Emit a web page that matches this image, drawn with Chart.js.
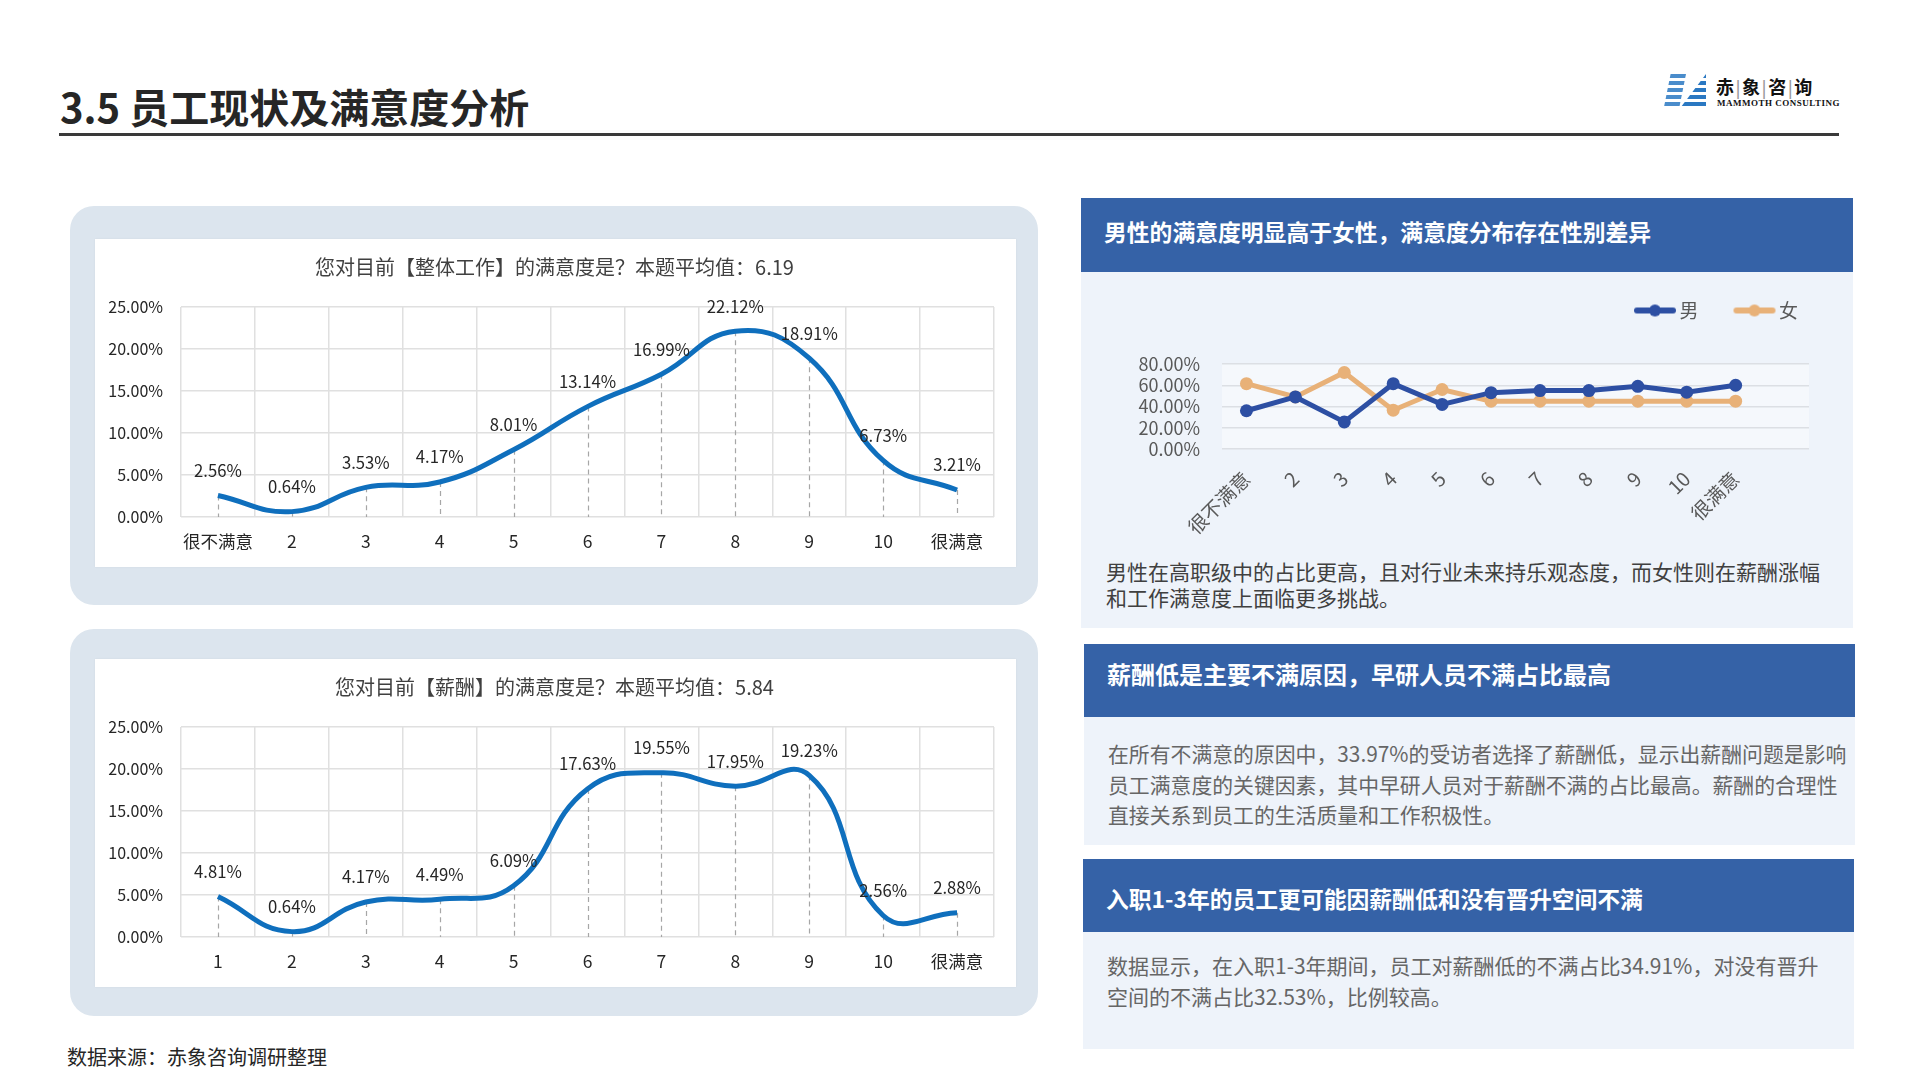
<!DOCTYPE html>
<html lang="zh-CN">
<head>
<meta charset="utf-8">
<title>3.5 员工现状及满意度分析</title>
<script src="https://cdn.jsdelivr.net/npm/chart.js@4.4.1/dist/chart.umd.min.js"></script>
<style>
  body { margin: 0; background: #fff; }
  #page { position: relative; width: 1920px; height: 1080px; overflow: hidden; background: #fff;
          font-family: "Noto Sans CJK SC", "Noto Sans", sans-serif; }
  .abs { position: absolute; }
  .title { left: 60px; top: 81px; height: 50px; line-height: 50px; font-size: 40px; font-weight: 700; color: #262626; }
  .rule { left: 59px; top: 133px; width: 1780px; height: 3px; background: #3a3a3a; }
  .logo-cn { left: 1716px; top: 73px; font-family: "DejaVu Serif", "Noto Sans CJK SC", serif; font-size: 18px; font-weight: 700; color: #111; }
  .logo-cn span { color: #999; font-weight: 400; margin: 0 1px; }
  .logo-en { left: 1717px; top: 98px; font-family: "Liberation Serif", "DejaVu Serif", serif; font-size: 9px; font-weight: 700; color: #111; letter-spacing: 0.5px; }
  .stripes { background: repeating-linear-gradient(180deg, #2a78c2 0 4px, transparent 4px 7px); }
  .outer { left: 70px; width: 968px; background: #dce5ee; border-radius: 24px; }
  .card { left: 95px; width: 921px; height: 328px; background: #fff; box-shadow: 0 0 2px rgba(0,0,0,0.06); }
  .head { background: #3562a7; color: #fff; font-weight: 700; font-size: 22.8px; box-sizing: border-box; padding-left: 23px; }
  .body { background: #eef3fa; box-sizing: border-box; padding-left: 24px; font-size: 21px; color: #666; white-space: nowrap; }
  .src { left: 67px; top: 1042px; font-size: 20px; color: #262626; }
</style>
</head>
<body>
<div id="page">
  <div class="abs title">3.5 员工现状及满意度分析</div>
  <div class="abs rule"></div>

  <div class="abs stripes" style="left:1664px;top:74px;width:22px;height:33px;clip-path:polygon(30% 0,100% 0,70% 100%,0 100%);opacity:0.85;"></div>
  <div class="abs stripes" style="left:1681px;top:74px;width:25px;height:33px;clip-path:polygon(100% 0,100% 100%,0 100%);"></div>
  <div class="abs logo-cn">赤<span>|</span>象<span>|</span>咨<span>|</span>询</div>
  <div class="abs logo-en">MAMMOTH CONSULTING</div>

  <div class="abs outer" style="top:206px;height:399px;"></div>
  <div class="abs card" style="top:239px;"><div style="position:relative;width:921px;height:328px;"><canvas id="work"></canvas></div></div>

  <div class="abs outer" style="top:629px;height:387px;"></div>
  <div class="abs card" style="top:659px;"><div style="position:relative;width:921px;height:328px;"><canvas id="pay"></canvas></div></div>

  <div class="abs head" style="left:1081px;top:198px;width:772px;height:74px;line-height:68px;">男性的满意度明显高于女性，满意度分布存在性别差异</div>
  <div class="abs body" style="left:1081px;top:272px;width:772px;height:356px;"></div>
  <div class="abs" style="left:1081px;top:270px;width:772px;height:275px;"><canvas id="gender"></canvas></div>
  <div class="abs" style="left:1106px;top:558px;font-size:21px;line-height:26px;color:#404040;white-space:nowrap;">男性在高职级中的占比更高，且对行业未来持乐观态度，而女性则在薪酬涨幅<br>和工作满意度上面临更多挑战。</div>

  <div class="abs head" style="left:1084px;top:644px;width:771px;height:73px;line-height:60px;font-size:24px;">薪酬低是主要不满原因，早研人员不满占比最高</div>
  <div class="abs body" style="left:1084px;top:717px;width:771px;height:128px;padding-top:21px;line-height:30.5px;font-size:20.85px;">在所有不满意的原因中，33.97%的受访者选择了薪酬低，显示出薪酬问题是影响<br>员工满意度的关键因素，其中早研人员对于薪酬不满的占比最高。薪酬的合理性<br>直接关系到员工的生活质量和工作积极性。</div>

  <div class="abs head" style="left:1083px;top:859px;width:771px;height:73px;line-height:80px;">入职1-3年的员工更可能因薪酬低和没有晋升空间不满</div>
  <div class="abs body" style="left:1083px;top:932px;width:771px;height:117px;padding-top:18px;line-height:31px;">数据显示，在入职1-3年期间，员工对薪酬低的不满占比34.91%，对没有晋升<br>空间的不满占比32.53%，比例较高。</div>

  <div class="abs src">数据来源：赤象咨询调研整理</div>
</div>

<script>
// 整体工作满意度
const workLabels = ['很不满意', '2', '3', '4', '5', '6', '7', '8', '9', '10', '很满意'];
const workValues = [2.56, 0.64, 3.53, 4.17, 8.01, 13.14, 16.99, 22.12, 18.91, 6.73, 3.21];
// 薪酬满意度
const payLabels = ['1', '2', '3', '4', '5', '6', '7', '8', '9', '10', '很满意'];
const payValues = [4.81, 0.64, 4.17, 4.49, 6.09, 17.63, 19.55, 17.95, 19.23, 2.56, 2.88];
// 性别差异 (last slot is empty in the original)
const genderLabels = ['很不满意', '2', '3', '4', '5', '6', '7', '8', '9', '10', '很满意', ''];
const maleValues = [36, 49, 25.5, 61.5, 42, 53, 55, 55, 59, 53.5, 60];
const femaleValues = [61.5, 49, 72, 36.5, 56, 45, 45, 45, 45, 45, 45];

const FONT = '"Noto Sans CJK SC", "Noto Sans", sans-serif';
const LINE_BLUE = '#0f6fbd';

// dashed drop lines + value labels for the satisfaction curves
const dropAndLabels = {
  id: 'dropAndLabels',
  afterLayout(chart) {
    // centre the title over the whole card, not over the padded box
    chart.titleBlock.left += 10;
    chart.titleBlock.right += 10;
  },
  beforeDatasetsDraw(chart) {
    const ctx = chart.ctx;
    const bottom = chart.chartArea.bottom;
    const meta = chart.getDatasetMeta(0);
    ctx.save();
    ctx.strokeStyle = '#a6a6a6';
    ctx.lineWidth = 1.2;
    ctx.setLineDash([5, 4]);
    meta.data.forEach(function(pt) {
      ctx.beginPath();
      ctx.moveTo(Math.round(pt.x) + 0.5, pt.y);
      ctx.lineTo(Math.round(pt.x) + 0.5, bottom);
      ctx.stroke();
    });
    ctx.restore();
  },
  afterDatasetsDraw(chart) {
    const ctx = chart.ctx;
    const ds = chart.data.datasets[0];
    const meta = chart.getDatasetMeta(0);
    ctx.save();
    ctx.font = '16.7px ' + FONT;
    ctx.fillStyle = '#262626';
    ctx.textAlign = 'center';
    ctx.textBaseline = 'middle';
    meta.data.forEach(function(pt, i) {
      ctx.fillText(ds.data[i].toFixed(2) + '%', pt.x, pt.y - 25);
    });
    ctx.restore();
  }
};

function draw_satisfaction(id, labels, values, title) {
  const data = {
    labels: labels,
    datasets: [{
      data: values,
      borderColor: LINE_BLUE,
      borderWidth: 5,
      pointRadius: 0,
      tension: 0.45,
      fill: false,
      clip: false
    }]
  };
  const config = {
    type: 'line',
    data: data,
    options: {
      responsive: true,
      maintainAspectRatio: false,
      animation: false,
      layout: { padding: { left: 0, right: 22, top: 0, bottom: 0 } },
      plugins: {
        legend: { display: false },
        tooltip: { enabled: false },
        title: {
          display: true,
          text: title,
          color: '#404040',
          font: { family: FONT, size: 20, weight: 'normal' },
          padding: { top: 16, bottom: 28 }
        }
      },
      scales: {
        x: {
          offset: true,
          grid: { color: '#e0e0e0', lineWidth: 1.5, offset: true, drawTicks: false },
          border: { display: false },
          ticks: { color: '#262626', font: { family: FONT, size: 17.5 }, padding: 14, maxRotation: 0, autoSkip: false },
          afterFit(scale) { scale.height = 50; }
        },
        y: {
          min: 0, max: 25,
          grid: { color: '#e0e0e0', lineWidth: 1.5, drawTicks: false },
          border: { display: false },
          ticks: {
            stepSize: 5, color: '#262626', padding: 18, autoSkip: false,
            font: { family: FONT, size: 16 },
            callback: function(v) { return v.toFixed(2) + '%'; }
          },
          afterFit(scale) { scale.width = 86; }
        }
      }
    },
    plugins: [dropAndLabels]
  };
  return new Chart(document.getElementById(id), config);
}

draw_satisfaction('work', workLabels, workValues, '您对目前【整体工作】的满意度是？本题平均值：6.19');
draw_satisfaction('pay', payLabels, payValues, '您对目前【薪酬】的满意度是？本题平均值：5.84');

// legend swatch: thick line with a dot in the middle (wider than its 40px box so it hugs the text)
function legendSwatch(color) {
  const c = document.createElement('canvas');
  c.width = 60; c.height = 14;
  const g = c.getContext('2d');
  g.strokeStyle = color; g.lineWidth = 6; g.lineCap = 'round';
  g.beginPath(); g.moveTo(17, 7); g.lineTo(53, 7); g.stroke();
  g.fillStyle = color;
  g.beginPath(); g.arc(35, 7, 6, 0, Math.PI * 2); g.fill();
  return c;
}

const legendSpacer = {
  id: 'legendSpacer',
  beforeInit(chart) {
    const origFit = chart.legend.fit;
    chart.legend.fit = function() {
      origFit.bind(chart.legend)();
      this.height += 34;
    };
  },
  afterLayout(chart) {
    chart.legend.left += 20;
    chart.legend.right += 20;
  },
  beforeDraw(chart) {
    const a = chart.chartArea;
    chart.ctx.save();
    chart.ctx.fillStyle = '#f5f8fc';
    chart.ctx.fillRect(a.left, a.top, a.right - a.left, a.bottom - a.top);
    chart.ctx.restore();
  }
};

const genderColors = ['#2d4fa3', '#e8b178'];
const genderSwatches = genderColors.map(legendSwatch);

new Chart(document.getElementById('gender'), {
  type: 'line',
  data: {
    labels: genderLabels,
    datasets: [
      { label: '男', data: maleValues, borderColor: genderColors[0], backgroundColor: genderColors[0],
        borderWidth: 5, pointRadius: 6.5, pointBorderWidth: 0, tension: 0, clip: false },
      { label: '女', data: femaleValues, borderColor: genderColors[1], backgroundColor: genderColors[1],
        borderWidth: 5, pointRadius: 6.5, pointBorderWidth: 0, tension: 0, clip: false }
    ]
  },
  options: {
    responsive: true,
    maintainAspectRatio: false,
    animation: false,
    layout: { padding: { left: 0, right: 44, top: 0, bottom: 0 } },
    plugins: {
      tooltip: { enabled: false },
      legend: {
        position: 'top',
        align: 'end',
        labels: {
          usePointStyle: true,
          pointStyleWidth: 40,
          padding: 31,
          color: '#595959',
          font: { family: FONT, size: 19 },
          generateLabels(chart) {
            const items = Chart.defaults.plugins.legend.labels.generateLabels(chart);
            items.forEach(function(it, i) { it.pointStyle = genderSwatches[i]; });
            return items;
          }
        }
      }
    },
    scales: {
      x: {
        offset: true,
        grid: { display: false, drawTicks: false },
        border: { display: false },
        ticks: { color: '#595959', font: { family: FONT, size: 19.5 }, minRotation: 45, maxRotation: 45, autoSkip: false, padding: 18 },
        afterFit(scale) { scale.height = 96; }
      },
      y: {
        min: 0, max: 80,
        grid: { color: '#dcdfe4', lineWidth: 1.5, drawTicks: false },
        border: { display: false },
        ticks: {
          stepSize: 20, color: '#595959', padding: 22, autoSkip: false,
          font: { family: FONT, size: 18 },
          callback: function(v) { return v.toFixed(2) + '%'; }
        },
        afterFit(scale) { scale.width = 141; }
      }
    }
  },
  plugins: [legendSpacer]
});
</script>
</body>
</html>
